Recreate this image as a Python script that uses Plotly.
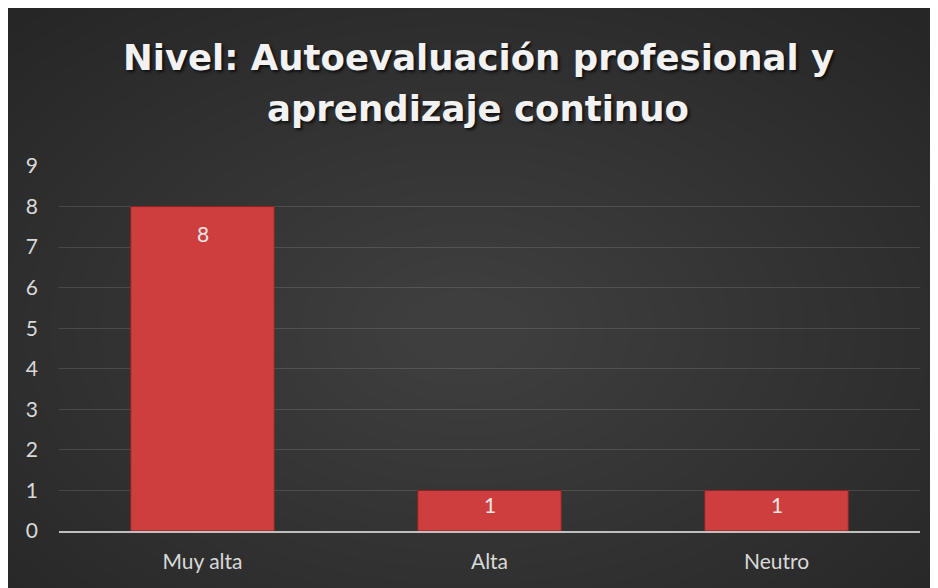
import plotly.graph_objects as go

categories = ["Muy alta", "Alta", "Neutro"]
counts = [8, 1, 1]
y_ticks = list(range(0, 10))

title_lines = ["Nivel: Autoevaluación profesional y", "aprendizaje continuo"]

fig = go.Figure()

fig.add_trace(
    go.Bar(
        x=categories,
        y=counts,
        marker=dict(color="#cf3e3e", line=dict(color="#8a2424", width=1)),
        hoverinfo="x+y",
    )
)

# value labels inside the top of each bar (offsets in px)
label_shift = [-27, -14, -14]
for cat, val, dy in zip(categories, counts, label_shift):
    fig.add_annotation(
        x=cat, y=val, text=str(val), showarrow=False,
        yshift=dy, font=dict(family="Lato", size=21, color="#e6e6e6"),
    )

# plot area in figure px, used to place things in paper coords
L, B, W, H = 51, 523, 861, 365

# two-line title, placed as annotations so the line gap matches
title_font = dict(family="DejaVu Sans", size=35.5, color="#f2f2f2", weight="bold",
                  shadow="2px 2px 3px rgba(0,0,0,0.7)")
for line, py in zip(title_lines, [49, 100]):
    fig.add_annotation(
        xref="paper", yref="paper", x=(470 - L) / W, y=(B - py) / H,
        text=line, showarrow=False, xanchor="center", yanchor="middle",
        font=title_font,
    )

# soft radial glow on the dark background (stacked translucent ellipses)
cx, cy = 457, 322
shapes = []
for i in range(24):
    rx = 640 - i * 25
    ry = 420 - i * 16.5
    shapes.append(dict(
        type="circle", xref="paper", yref="paper",
        x0=(cx - rx - L) / W, x1=(cx + rx - L) / W,
        y0=(B - (cy + ry)) / H, y1=(B - (cy - ry)) / H,
        fillcolor="rgba(255,255,255,0.0095)",
        line=dict(width=0), layer="below",
    ))

fig.update_layout(
    width=938,
    height=588,
    paper_bgcolor="#262626",
    plot_bgcolor="rgba(0,0,0,0)",
    margin=dict(l=51, r=26, t=158, b=65),
    bargap=0.5,
    showlegend=False,
    shapes=shapes,
    xaxis=dict(
        tickfont=dict(family="Lato", size=21, color="#d9d9d9"),
        showgrid=False,
        showline=True,
        linecolor="#bfbfbf",
        linewidth=2,
        ticks="",
        ticklabelstandoff=11,
    ),
    yaxis=dict(
        range=[0, 9],
        tickvals=y_ticks,
        tickfont=dict(family="Lato", size=21, color="#d9d9d9"),
        showgrid=True,
        gridcolor="rgba(255,255,255,0.12)",
        gridwidth=1,
        zeroline=False,
        showline=False,
        ticks="",
        ticklabelstandoff=20,
    ),
)

fig.write_html("out.html")
